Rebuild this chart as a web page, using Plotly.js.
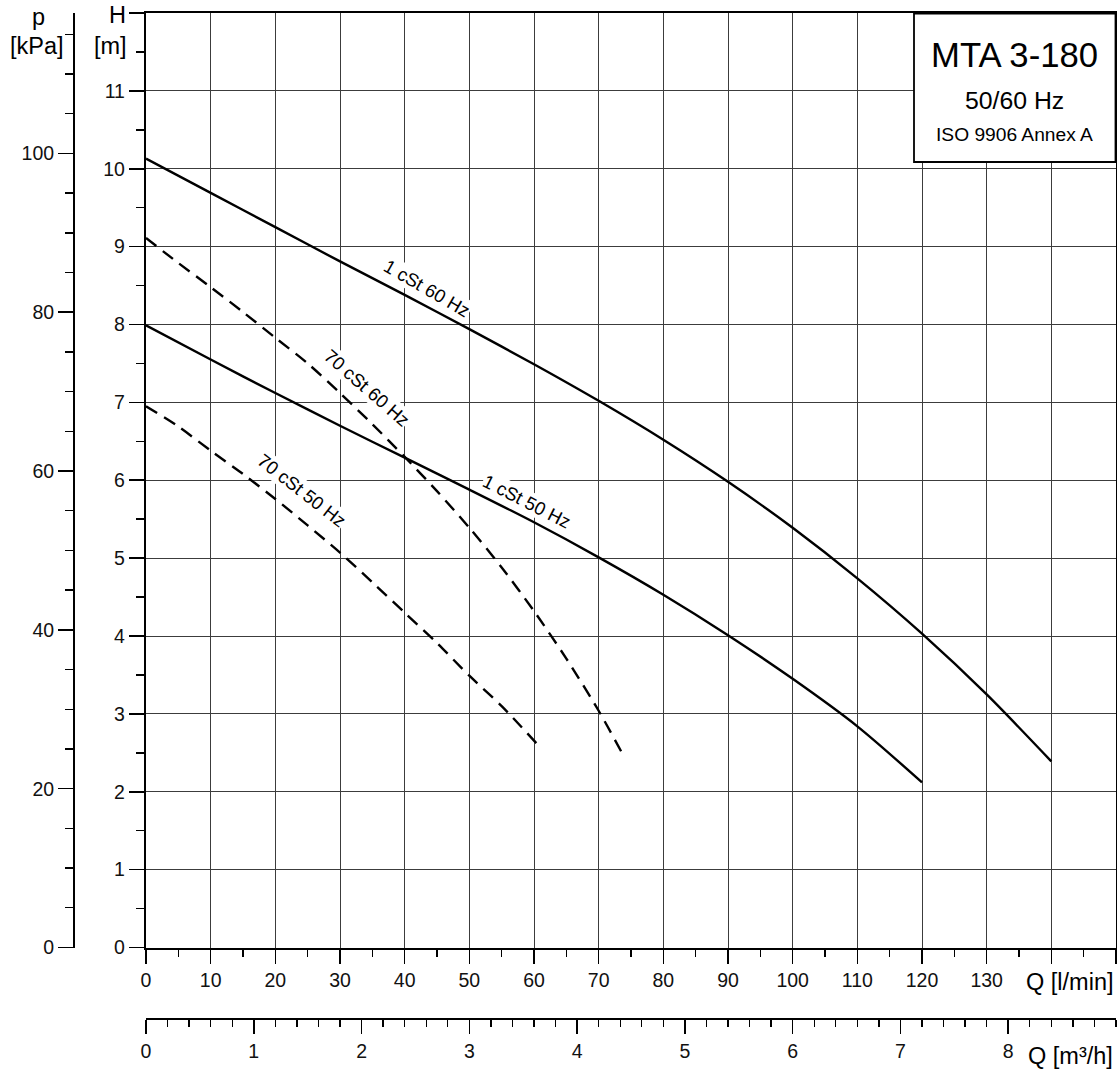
<!DOCTYPE html>
<html>
<head>
<meta charset="utf-8">
<script src="https://cdn.plot.ly/plotly-3.0.1.min.js"></script>
<style>html,body{margin:0;padding:0;background:#fff;}#chart{width:1117px;height:1071px;}</style>
</head>
<body>
<div id="chart"></div>
<script>
// ---- data (Q in l/min, H in m) ----
const Q_1cSt_60Hz = [0, 10, 20, 30, 40, 50, 60, 70, 80, 90, 100, 110, 120, 130, 140];
const H_1cSt_60Hz = [10.13, 9.69, 9.25, 8.81, 8.38, 7.94, 7.49, 7.02, 6.52, 5.98, 5.39, 4.74, 4.03, 3.25, 2.39];

const Q_1cSt_50Hz = [0, 10, 20, 30, 40, 50, 60, 70, 80, 90, 100, 110, 120];
const H_1cSt_50Hz = [7.99, 7.55, 7.12, 6.70, 6.29, 5.88, 5.46, 5.01, 4.53, 4.01, 3.45, 2.84, 2.12];

const Q_70cSt_60Hz = [0, 5, 10, 15, 20, 25, 30, 35, 40, 45, 50, 55, 60, 65, 70, 73.6];
const H_70cSt_60Hz = [9.11, 8.79, 8.48, 8.16, 7.83, 7.50, 7.12, 6.72, 6.30, 5.86, 5.39, 4.88, 4.32, 3.71, 3.04, 2.50];

const Q_70cSt_50Hz = [0, 5, 10, 15, 20, 25, 30, 35, 40, 45, 50, 55, 60.4];
const H_70cSt_50Hz = [6.95, 6.69, 6.38, 6.08, 5.76, 5.42, 5.07, 4.69, 4.30, 3.91, 3.49, 3.10, 2.62];

// ---- axes / tick labels ----
const qTicks = [0, 10, 20, 30, 40, 50, 60, 70, 80, 90, 100, 110, 120, 130, 140, 150];
const qTickText = ['0', '10', '20', '30', '40', '50', '60', '70', '80', '90', '100', '110', '120', '130', '', ''];
const hTicks = [0, 1, 2, 3, 4, 5, 6, 7, 8, 9, 10, 11, 12];
const hTickText = ['0', '1', '2', '3', '4', '5', '6', '7', '8', '9', '10', '11', ''];
const kPaTicks = [0, 20, 40, 60, 80, 100];
const m3hTicks = [0, 1, 2, 3, 4, 5, 6, 7, 8];
const Q_MAX = 150, H_MAX = 12;
const KPA_PER_M = 9.80665;
const LPM_PER_M3H = 1000 / 60;

const curveLabels = [
  {text: '1 cSt 60 Hz', q: 43.5, h: 8.46, angle: 30},
  {text: '70 cSt 60 Hz', q: 34.1, h: 7.19, angle: 41},
  {text: '1 cSt 50 Hz', q: 58.9, h: 5.73, angle: 27},
  {text: '70 cSt 50 Hz', q: 24.1, h: 5.87, angle: 38}
];

// ---- layout geometry ----
const W = 1117, HGT = 1071;
const mL = 74, mR = 1, mT = 13, mB = 52;
const plotW = W - mL - mR, plotH = HGT - mT - mB;
const px2paperX = px => (px - mL) / plotW;
const px2paperY = py => (HGT - mB - py) / plotH;
const xDom = [px2paperX(146), 1];
const yDom = [px2paperY(947.5), 1];

const FONT = 'Arial, Liberation Sans, sans-serif';
const tickFont = () => ({family: FONT, size: 19.5, color: '#111'});

const solid = () => ({color: '#000', width: 2.4, shape: 'spline', smoothing: 0.8});
const dashed = () => ({color: '#000', width: 2.4, dash: '13px,8px', shape: 'spline', smoothing: 0.8});

const traces = [
  {x: Q_1cSt_60Hz, y: H_1cSt_60Hz, mode: 'lines', line: solid(), name: '1 cSt 60 Hz'},
  {x: Q_1cSt_50Hz, y: H_1cSt_50Hz, mode: 'lines', line: solid(), name: '1 cSt 50 Hz'},
  {x: Q_70cSt_60Hz, y: H_70cSt_60Hz, mode: 'lines', line: dashed(), name: '70 cSt 60 Hz'},
  {x: Q_70cSt_50Hz, y: H_70cSt_50Hz, mode: 'lines', line: dashed(), name: '70 cSt 50 Hz'},
  // carriers for the secondary scales
  {x: [0], y: [0], xaxis: 'x2', yaxis: 'y', mode: 'markers', marker: {opacity: 0}, hoverinfo: 'skip'},
  {x: [0], y: [0], xaxis: 'x', yaxis: 'y2', mode: 'markers', marker: {opacity: 0}, hoverinfo: 'skip'}
];
traces.forEach(t => { t.showlegend = false; });

const gridColor = '#3c3c3c';

const annotations = curveLabels.map(l => ({
  x: l.q, y: l.h, xref: 'x', yref: 'y', text: l.text, showarrow: false,
  textangle: l.angle, font: {family: FONT, size: 18.5, color: '#000'},
  bgcolor: '#fff', borderpad: 0
}));

function pxText(text, px, py, size, xanchor) {
  return {text, x: px2paperX(px), y: px2paperY(py), xref: 'paper', yref: 'paper',
    showarrow: false, xanchor: xanchor || 'center', yanchor: 'middle',
    font: {family: FONT, size, color: '#000'}};
}
annotations.push(pxText('p', 38, 17, 23.5));
annotations.push(pxText('[kPa]', 37, 46, 23.5));
annotations.push(pxText('H', 117, 15, 23.5));
annotations.push(pxText('[m]', 110, 46, 23.5));
annotations.push(pxText('Q [l/min]', 1115, 982, 23.5, 'right'));
annotations.push(pxText('Q [m³/h]', 1115, 1056, 23.5, 'right'));
annotations.push(pxText('MTA 3-180', 1014.5, 55, 34.7));
annotations.push(pxText('50/60 Hz', 1014.5, 100, 24.8));
annotations.push(pxText('ISO 9906 Annex A', 1014.5, 134, 19.2));

const layout = {
  width: W, height: HGT,
  margin: {l: mL, r: mR, t: mT, b: mB, pad: 0},
  paper_bgcolor: '#fff', plot_bgcolor: '#fff',
  showlegend: false,
  font: {family: FONT},
  xaxis: {
    domain: xDom, range: [0, Q_MAX], anchor: 'y',
    tickmode: 'array', tickvals: qTicks, ticktext: qTickText,
    ticks: 'outside', ticklen: 14, tickwidth: 1.6, tickcolor: '#000',
    minor: {dtick: 5, tick0: 0, ticks: 'outside', ticklen: 7, tickwidth: 1.4, tickcolor: '#000', showgrid: false},
    showgrid: true, gridcolor: gridColor, gridwidth: 1,
    showline: true, linecolor: '#000', linewidth: 2.2, mirror: true,
    zeroline: false, tickfont: tickFont(), fixedrange: true
  },
  xaxis2: {
    domain: xDom, range: [0, Q_MAX / LPM_PER_M3H], overlaying: 'x', anchor: 'free', position: 0, side: 'bottom',
    tickmode: 'array', tickvals: m3hTicks,
    ticks: 'outside', ticklen: 14, tickwidth: 1.6, tickcolor: '#000',
    minor: {dtick: 0.2, tick0: 0, ticks: 'outside', ticklen: 7, tickwidth: 1.4, tickcolor: '#000', showgrid: false},
    showgrid: false, showline: true, linecolor: '#000', linewidth: 2.2,
    zeroline: false, tickfont: tickFont(), fixedrange: true
  },
  yaxis: {
    domain: yDom, range: [0, H_MAX], anchor: 'x',
    tickmode: 'array', tickvals: hTicks, ticktext: hTickText,
    ticks: 'outside', ticklen: 15, tickwidth: 1.6, tickcolor: '#000',
    minor: {dtick: 0.5, tick0: 0, ticks: 'outside', ticklen: 8, tickwidth: 1.4, tickcolor: '#000', showgrid: false},
    showgrid: true, gridcolor: gridColor, gridwidth: 1,
    showline: true, linecolor: '#000', linewidth: 2.2, mirror: true,
    zeroline: false, tickfont: tickFont(), fixedrange: true
  },
  yaxis2: {
    domain: yDom, range: [0, H_MAX * KPA_PER_M], overlaying: 'y', anchor: 'free', position: 0, side: 'left',
    tickmode: 'array', tickvals: kPaTicks,
    ticks: 'outside', ticklen: 15, tickwidth: 1.6, tickcolor: '#000',
    minor: {dtick: 5, tick0: 0, ticks: 'outside', ticklen: 8, tickwidth: 1.4, tickcolor: '#000', showgrid: false},
    showgrid: false, showline: true, linecolor: '#000', linewidth: 2.2,
    zeroline: false, tickfont: tickFont(), fixedrange: true
  },
  shapes: [
    {type: 'rect', xref: 'paper', yref: 'paper',
     x0: px2paperX(914), x1: px2paperX(1115.5), y0: px2paperY(162), y1: px2paperY(13.5),
     fillcolor: '#fff', line: {color: '#000', width: 1.8}, layer: 'above'}
  ],
  annotations: annotations
};

Plotly.newPlot('chart', traces, layout, {staticPlot: true, displayModeBar: false});
</script>
</body>
</html>
